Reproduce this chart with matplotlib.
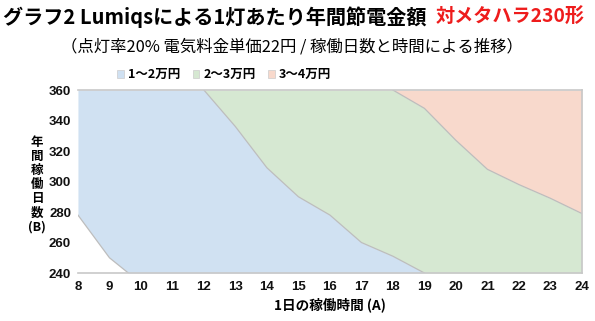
import numpy as np
import matplotlib
matplotlib.use("Agg")
from matplotlib import pyplot as plt
from matplotlib.patches import Patch

plt.rcParams['font.family'] = ['Noto Sans CJK JP', 'DejaVu Sans']

# boundaries between zones (hours per day -> operating days per year)
b1_x = [8, 9, 9.6]
b1_y = [278, 250, 240]          # 0~1 / 1~2万円
b2_x = [12, 13, 14, 15, 16, 17, 18, 19]
b2_y = [360, 336, 309, 290, 278, 260, 251, 240]   # 1~2 / 2~3万円
b3_x = [18, 19, 20, 21, 22, 23, 24]
b3_y = [360, 348, 327, 308, 298, 289, 279]        # 2~3 / 3~4万円

labels = ['1～2万円', '2～3万円', '3～4万円']
colors = ['#d0e1f2', '#d6e8d2', '#f8d9cc']
x_ticks = list(range(8, 25))
y_ticks = list(range(240, 361, 20))

fig = plt.figure(figsize=(5.95, 3.21), dpi=100)
ax = fig.add_axes([0.131, 0.1495, 0.847, 0.570])

x = np.unique(np.concatenate([b1_x, b2_x, b3_x, [8, 24]]))
lo1 = np.interp(x, b1_x, b1_y, right=240)
lo2 = np.interp(x, b2_x, b2_y, left=360, right=240)
lo3 = np.interp(x, b3_x, b3_y, left=360)
top = np.full_like(x, 360.0)

ax.fill_between(x, lo1, lo2, color=colors[0], lw=0)
ax.fill_between(x, lo2, lo3, color=colors[1], lw=0)
ax.fill_between(x, lo3, top, color=colors[2], lw=0)
for bx, by in [(b1_x, b1_y), (b2_x, b2_y), (b3_x, b3_y)]:
    ax.plot(bx, by, color='#bdbdbd', lw=0.9)

ax.set_xlim(8, 24)
ax.set_ylim(240, 360)
ax.set_xticks(x_ticks)
ax.set_yticks(y_ticks)
for s in ax.spines.values():
    s.set_color('#c8c8c8')
    s.set_linewidth(1.2)
ax.spines['left'].set_visible(False)
ax.tick_params(length=0, pad=5, labelsize=9.5)
ax.tick_params(axis='x', pad=6)
for t in ax.get_xticklabels() + ax.get_yticklabels():
    t.set_family(['Liberation Sans', 'DejaVu Sans'])
    t.set_fontweight('bold')
    t.set_color('#111111')

ax.set_xlabel('1日の稼働時間 (A)', fontsize=9.8, fontweight='bold', labelpad=3)
fig.text(0.062, 0.424, '年\n間\n稼\n働\n日\n数\n(B)', fontsize=9, fontweight='bold',
         ha='center', va='center', linespacing=1.1)

handles = [Patch(facecolor=c, edgecolor='#cccccc', lw=0.5) for c in colors]
fig.legend(handles, labels, loc='center left', bbox_to_anchor=(0.178, 0.767),
           ncol=3, frameon=False, handlelength=0.55, handleheight=0.55,
           handletextpad=0.3, columnspacing=1.0, prop={'weight': 'bold', 'size': 9})

fig.text(0.005, 0.945, 'グラフ2 Lumiqsによる1灯あたり年間節電金額', fontsize=14.5,
         fontweight='bold', ha='left', va='center')
fig.text(0.982, 0.945, '対メタハラ230形', fontsize=13.8, fontweight='bold',
         color='#ee1c1c', ha='right', va='center')
fig.text(0.102, 0.855, '（点灯率20% 電気料金単価22円 / 稼働日数と時間による推移）',
         fontsize=11.8, ha='left', va='center')

plt.savefig('out.png', dpi=100)
